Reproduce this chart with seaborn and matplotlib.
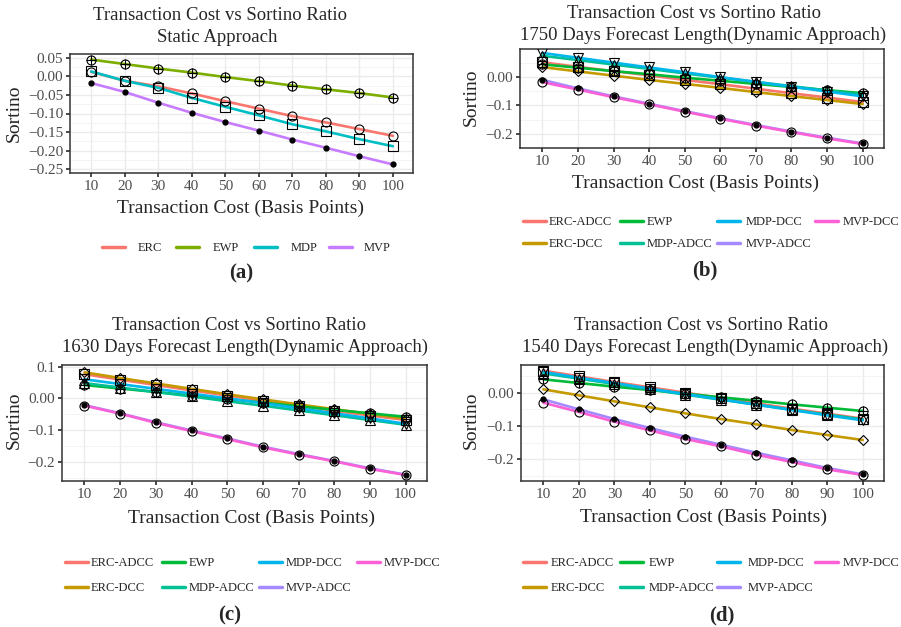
import numpy as np
import pandas as pd
import matplotlib
matplotlib.use("Agg")
import matplotlib.pyplot as plt
from matplotlib.lines import Line2D
from matplotlib.ticker import MultipleLocator
import seaborn as sns

# transaction cost in basis points
costs = [10, 20, 30, 40, 50, 60, 70, 80, 90, 100]

# (a) static approach
static_names = ["ERC", "EWP", "MDP", "MVP"]
erc_a = [0.012, -0.012, -0.027, -0.046, -0.067, -0.087, -0.107, -0.124, -0.142, -0.160]
ewp_a = [0.045, 0.033, 0.021, 0.010, -0.002, -0.013, -0.025, -0.035, -0.045, -0.057]
mdp_a = [0.013, -0.012, -0.031, -0.058, -0.082, -0.105, -0.129, -0.148, -0.169, -0.188]
mvp_a = [-0.018, -0.042, -0.071, -0.098, -0.123, -0.146, -0.170, -0.192, -0.215, -0.237]

# dynamic approach series names
dyn_names = ["ERC-ADCC", "ERC-DCC", "EWP", "MDP-ADCC", "MDP-DCC", "MVP-ADCC", "MVP-DCC"]

# (b) 1750 days
erc_adcc_b = [0.052, 0.036, 0.021, 0.006, -0.010, -0.025, -0.041, -0.057, -0.072, -0.088]
erc_dcc_b = [0.035, 0.020, 0.005, -0.010, -0.024, -0.038, -0.053, -0.067, -0.081, -0.095]
ewp_b = [0.045, 0.033, 0.021, 0.010, -0.002, -0.013, -0.024, -0.035, -0.046, -0.057]
mdp_adcc_b = [0.075, 0.060, 0.044, 0.029, 0.013, -0.002, -0.017, -0.032, -0.047, -0.062]
mdp_dcc_b = [0.085, 0.068, 0.051, 0.034, 0.017, 0.000, -0.017, -0.034, -0.051, -0.068]
mvp_adcc_b = [-0.010, -0.040, -0.068, -0.094, -0.120, -0.145, -0.169, -0.192, -0.214, -0.234]
mvp_dcc_b = [-0.018, -0.044, -0.071, -0.096, -0.122, -0.147, -0.171, -0.194, -0.216, -0.236]

# (c) 1630 days
erc_adcc_c = [0.076, 0.059, 0.042, 0.025, 0.009, -0.007, -0.023, -0.039, -0.054, -0.068]
erc_dcc_c = [0.082, 0.064, 0.047, 0.030, 0.013, -0.003, -0.019, -0.034, -0.049, -0.064]
ewp_c = [0.042, 0.031, 0.020, 0.009, -0.002, -0.013, -0.025, -0.036, -0.047, -0.058]
mdp_adcc_c = [0.048, 0.034, 0.020, 0.006, -0.009, -0.023, -0.038, -0.053, -0.068, -0.083]
mdp_dcc_c = [0.060, 0.045, 0.030, 0.015, 0.000, -0.015, -0.031, -0.047, -0.063, -0.080]
mvp_adcc_c = [-0.021, -0.047, -0.075, -0.101, -0.126, -0.152, -0.175, -0.197, -0.220, -0.240]
mvp_dcc_c = [-0.023, -0.048, -0.077, -0.103, -0.128, -0.154, -0.177, -0.198, -0.222, -0.241]

# (d) 1540 days
erc_adcc_d = [0.066, 0.049, 0.032, 0.016, 0.000, -0.016, -0.032, -0.048, -0.063, -0.078]
erc_dcc_d = [0.010, -0.008, -0.026, -0.044, -0.062, -0.079, -0.095, -0.112, -0.127, -0.142]
ewp_d = [0.040, 0.029, 0.018, 0.008, -0.003, -0.014, -0.024, -0.035, -0.045, -0.055]
mdp_adcc_d = [0.058, 0.042, 0.026, 0.010, -0.006, -0.021, -0.036, -0.051, -0.066, -0.080]
mdp_dcc_d = [0.062, 0.045, 0.029, 0.012, -0.004, -0.020, -0.036, -0.052, -0.068, -0.083]
mvp_adcc_d = [-0.020, -0.050, -0.079, -0.106, -0.132, -0.156, -0.180, -0.203, -0.226, -0.245]
mvp_dcc_d = [-0.030, -0.058, -0.087, -0.113, -0.139, -0.161, -0.186, -0.208, -0.230, -0.247]

static_colors = ["#F8766D", "#7CAE00", "#00BFC4", "#C77CFF"]
dyn_colors = ["#F8766D", "#C49A00", "#00BA38", "#00C094", "#00B6EB", "#A58AFF", "#FB61D7"]

static_markers = [["o"], ["o", "+"], ["s"], ["."]]
dyn_markers = [["s"], ["D"], ["o", "+"], ["^"], ["v"], ["."], ["o"]]

sns.set_theme(style="whitegrid")
plt.rcParams["font.family"] = ["Liberation Serif", "DejaVu Serif"]

W, H = 901, 627
fig = plt.figure(figsize=(W / 100, H / 100), dpi=100)
fig.patch.set_facecolor("white")


def px_axes(l, t, r, b):
    return fig.add_axes([l / W, 1 - b / H, (r - l) / W, (b - t) / H])


def ftext(x, y, s, **kw):
    fig.text(x / W, 1 - y / H, s, ha="center", va="center", **kw)


def draw_panel(ax, names, series, colors, markers, ylim, ystep):
    df = pd.DataFrame({
        "cost": costs * len(names),
        "sortino": sum(series, []),
        "strategy": np.repeat(names, len(costs)),
    })
    sns.lineplot(data=df, x="cost", y="sortino", hue="strategy",
                 palette=dict(zip(names, colors)), legend=False,
                 linewidth=1.9, ax=ax)
    for vals, mk in zip(series, markers):
        for m in mk:
            if m == ".":
                ax.plot(costs, vals, linestyle="", marker="o", ms=3.5,
                        mfc="black", mec="black", zorder=5)
            else:
                size = {"o": 6.5, "+": 7.5, "s": 6.5, "D": 5.5, "^": 6.5, "v": 6.5}[m]
                ax.plot(costs, vals, linestyle="", marker=m, ms=size,
                        mfc="none", mec="black", mew=0.8, zorder=5)
    ax.set_xlim(3.7, 106)
    ax.set_ylim(*ylim)
    ax.set_xticks(costs)
    ax.yaxis.set_major_locator(MultipleLocator(ystep))
    ax.yaxis.set_minor_locator(MultipleLocator(ystep / 2))
    ax.grid(True, which="major", color="#EBEBEB", linewidth=1.0)
    ax.grid(True, which="minor", axis="y", color="#F2F2F2", linewidth=0.6)
    ax.grid(False, which="minor", axis="x")
    ax.set_axisbelow(True)
    for sp in ax.spines.values():
        sp.set_color("#333333")
        sp.set_linewidth(1.1)
    ax.tick_params(axis="both", which="major", labelsize=11, length=3,
                   color="#333333", labelcolor="#4D4D4D", pad=2,
                   bottom=True, left=True)
    ax.tick_params(which="minor", length=0)
    ax.set_xlabel("")
    ax.set_ylabel("")


def legend_entry(name, color, x, y, text_x):
    # one legend key: line starts at x (pixels), label starts at text_x
    fs = 9
    em = fs * 100 / 72
    hl = 23 / em
    pad = max(text_x - x - 23, 1) / em
    h = Line2D([0], [0], color=color, lw=2.5, label=name)
    fig.legend(handles=[h], loc="center left", bbox_to_anchor=(x / W, 1 - y / H),
               frameon=False, fontsize=fs, handlelength=hl, handletextpad=pad,
               borderaxespad=0, borderpad=0)


# (a)
ax_a = px_axes(70, 54, 413, 173)
draw_panel(ax_a, static_names, [erc_a, ewp_a, mdp_a, mvp_a], static_colors,
           static_markers, (-0.26, 0.06), 0.05)
ax_a.yaxis.set_major_formatter(plt.FuncFormatter(lambda v, p: f"{v:.2f}".replace("-", "\u2212")))

# (b)
ax_b = px_axes(520, 49, 884, 148)
draw_panel(ax_b, dyn_names,
           [erc_adcc_b, erc_dcc_b, ewp_b, mdp_adcc_b, mdp_dcc_b, mvp_adcc_b, mvp_dcc_b],
           dyn_colors, dyn_markers, (-0.25, 0.099), 0.1)

# (c)
ax_c = px_axes(62, 365, 427, 481)
draw_panel(ax_c, dyn_names,
           [erc_adcc_c, erc_dcc_c, ewp_c, mdp_adcc_c, mdp_dcc_c, mvp_adcc_c, mvp_dcc_c],
           dyn_colors, dyn_markers, (-0.26, 0.105), 0.1)

# (d)
ax_d = px_axes(521, 365, 884, 481)
draw_panel(ax_d, dyn_names,
           [erc_adcc_d, erc_dcc_d, ewp_d, mdp_adcc_d, mdp_dcc_d, mvp_adcc_d, mvp_dcc_d],
           dyn_colors, dyn_markers, (-0.265, 0.083), 0.1)


def fmt_dyn(v, p):
    s = "0.00" if abs(v) < 1e-9 else f"{v:.1f}"
    return s.replace("-", "\u2212")


for ax in (ax_b, ax_c, ax_d):
    ax.yaxis.set_major_formatter(plt.FuncFormatter(fmt_dyn))

# titles, axis labels, panel letters
title1 = "Transaction Cost vs Sortino Ratio"
tsize = 13.5
ftext(220, 15, title1, fontsize=tsize)
ftext(217, 38, "Static Approach", fontsize=tsize)
ftext(694, 14, title1, fontsize=tsize)
ftext(703, 35, "1750 Days Forecast Length(Dynamic Approach)", fontsize=tsize)
ftext(239, 325, title1, fontsize=tsize)
ftext(245, 347, "1630 Days Forecast Length(Dynamic Approach)", fontsize=tsize)
ftext(701, 325, title1, fontsize=tsize)
ftext(705, 347, "1540 Days Forecast Length(Dynamic Approach)", fontsize=tsize)

xlab = "Transaction Cost (Basis Points)"
ftext(240, 208, xlab, fontsize=14)
ftext(695, 183, xlab, fontsize=14)
ftext(252, 518, xlab, fontsize=14)
ftext(703, 517, xlab, fontsize=14)

for x, y in [(14, 113), (471, 97), (14, 420), (471, 420)]:
    ftext(x, y, "Sortino", fontsize=14, rotation=90)

ftext(241, 273, "(a)", fontsize=15, fontweight="bold")
ftext(705, 270, "(b)", fontsize=15, fontweight="bold")
ftext(230, 615, "(c)", fontsize=15, fontweight="bold")
ftext(722, 615, "(d)", fontsize=15, fontweight="bold")

# legends: static panel in one row
for name, color, lx, tx in zip(static_names, static_colors,
                               [102, 176, 254, 329], [138, 213, 291, 364]):
    legend_entry(name, color, lx, 248, tx)

# dynamic panels: four columns, filled column by column
dyn_slots = [(0, 0), (0, 1), (1, 0), (1, 1), (2, 0), (2, 1), (3, 0)]
dyn_legends = [
    ([523, 620, 717, 815], [549, 647, 746, 843], [222, 244]),
    ([65, 162, 259, 357], [91, 189, 286, 384], [563, 588]),
    ([523, 620, 717, 815], [551, 649, 748, 843], [563, 588]),
]
for line_x, text_x, rows in dyn_legends:
    for name, color, (col, row) in zip(dyn_names, dyn_colors, dyn_slots):
        legend_entry(name, color, line_x[col], rows[row], text_x[col])

fig.savefig("out.png", dpi=100, facecolor="white")
